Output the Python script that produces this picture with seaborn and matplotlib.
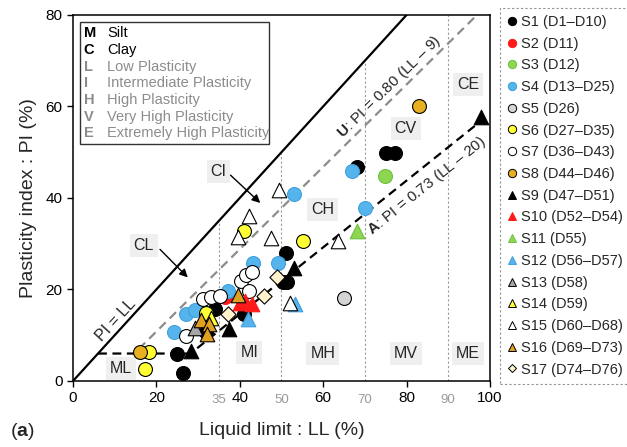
import matplotlib
matplotlib.use("Agg")
import matplotlib.pyplot as plt
import seaborn as sns
import pandas as pd
from matplotlib.lines import Line2D
from matplotlib.patches import Rectangle

sns.set_theme(style="white")
plt.rcParams["font.family"] = ["Liberation Sans", "DejaVu Sans"]
plt.rcParams["mathtext.fontset"] = "custom"
plt.rcParams["mathtext.bf"] = "Liberation Sans:bold"
plt.rcParams["mathtext.rm"] = "Liberation Sans"

# ---------------- data (LL, PI) per series ----------------
S1_LL = [25.0, 26.4, 34.1, 32.0, 40.9, 51.0, 50.3, 51.4, 68.1, 75.0, 77.3]
S1_PI = [5.8, 1.7, 15.7, 10.7, 14.6, 27.9, 21.7, 21.7, 46.8, 49.9, 49.9]
S2_LL = [36.5]
S2_PI = [18.4]
S3_LL = [74.9]
S3_PI = [44.9]
S4_LL = [24.2, 27.0, 29.2, 37.2, 43.2, 49.1, 53.1, 66.9, 70.1]
S4_PI = [10.6, 14.6, 15.5, 19.7, 25.8, 25.7, 40.8, 45.9, 37.7]
S5_LL = [64.9]
S5_PI = [18.1]
S6_LL = [18.2, 17.2, 32.0, 41.1, 55.1]
S6_PI = [6.4, 2.6, 14.8, 32.8, 30.7]
S7_LL = [27.2, 31.2, 33.2, 35.2, 40.2, 41.6, 43.0, 42.1]
S7_PI = [9.9, 17.9, 18.4, 18.6, 21.9, 23.2, 23.9, 19.7]
S8_LL = [16.0, 83.0]
S8_PI = [6.4, 60.0]
S9_LL = [28.4, 37.3, 53.1, 97.8]
S9_PI = [6.6, 11.4, 24.6, 57.8]
S10_LL = [40.0, 41.3, 43.0]
S10_PI = [17.0, 17.4, 16.8]
S11_LL = [68.0]
S11_PI = [32.8]
S12_LL = [41.9, 53.3]
S12_PI = [13.5, 16.8]
S13_LL = [29.3]
S13_PI = [11.5]
S14_LL = [33.0]
S14_PI = [13.8]
S15_LL = [39.6, 42.3, 47.6, 49.4, 52.0, 63.5]
S15_PI = [31.5, 36.0, 31.2, 41.7, 17.0, 30.5]
S16_LL = [30.8, 32.7, 32.1, 39.6]
S16_PI = [13.3, 12.5, 10.3, 18.8]
S17_LL = [37.2, 45.9, 49.0]
S17_PI = [14.6, 18.6, 22.7]

series_names = ["S1 (D1–D10)", "S2 (D11)", "S3 (D12)", "S4 (D13–D25)", "S5 (D26)",
                "S6 (D27–D35)", "S7 (D36–D43)", "S8 (D44–D46)", "S9 (D47–D51)",
                "S10 (D52–D54)", "S11 (D55)", "S12 (D56–D57)", "S13 (D58)",
                "S14 (D59)", "S15 (D60–D68)", "S16 (D69–D73)", "S17 (D74–D76)"]
series_LL = [S1_LL, S2_LL, S3_LL, S4_LL, S5_LL, S6_LL, S7_LL, S8_LL, S9_LL,
             S10_LL, S11_LL, S12_LL, S13_LL, S14_LL, S15_LL, S16_LL, S17_LL]
series_PI = [S1_PI, S2_PI, S3_PI, S4_PI, S5_PI, S6_PI, S7_PI, S8_PI, S9_PI,
             S10_PI, S11_PI, S12_PI, S13_PI, S14_PI, S15_PI, S16_PI, S17_PI]

# style: (marker, face, edge)
styles = [
    ("o", "#000000", "#000000"),
    ("o", "#ff1a1a", "#ff1a1a"),
    ("o", "#8fd650", "#6cc040"),
    ("o", "#56b4ec", "#3fa0dc"),
    ("o", "#d4d4d4", "#000000"),
    ("o", "#ffff33", "#000000"),
    ("o", "#ffffff", "#000000"),
    ("o", "#e8b020", "#000000"),
    ("^", "#000000", "#000000"),
    ("^", "#ff1a1a", "#ff1a1a"),
    ("^", "#8fd650", "#6cc040"),
    ("^", "#56b4ec", "#3fa0dc"),
    ("^", "#a6a6a6", "#000000"),
    ("^", "#ffff33", "#000000"),
    ("^", "#ffffff", "#000000"),
    ("^", "#e0a020", "#000000"),
    ("D", "#fff2cc", "#000000"),
]

rows = []
for name, xs, ys in zip(series_names, series_LL, series_PI):
    for x, y in zip(xs, ys):
        rows.append({"series": name, "LL": x, "PI": y})
df = pd.DataFrame(rows)

fig = plt.figure(figsize=(6.27, 4.47), dpi=100)
ax = fig.add_axes([0.1164, 0.1477, 0.665, 0.8188])

# reference lines
ax.plot([0, 80], [0, 80], color="black", lw=1.6, zorder=2)
ax.plot([15.8, 96.9], [0.9 * (15.8 - 8), 0.9 * (96.9 - 8)], color="#8c8c8c",
        lw=1.6, ls=(0, (4, 2.5)), zorder=2)
ax.plot([6, 28.2, 98], [6, 6, 0.73 * (98 - 20)], color="black", lw=1.6,
        ls=(0, (4, 2.5)), zorder=2)
for xv, ytop in [(35, 35), (50, 50), (70, 70), (90, 80)]:
    ax.plot([xv, xv], [0, ytop], color="#9a9a9a", lw=0.8, ls=(0, (2, 2)), zorder=1)

# scatter points
for (name, (mk, fc, ec)) in zip(series_names, styles):
    sub = df[df["series"] == name]
    size = 60 if mk == "D" else (110 if mk == "^" else 100)
    sns.scatterplot(data=sub, x="LL", y="PI", marker=mk, color=fc, edgecolor=ec,
                    linewidth=0.8, s=size, ax=ax, legend=False, zorder=4)

ax.set_xlim(0, 100)
ax.set_ylim(0, 80)
ax.set_xticks([0, 20, 40, 60, 80, 100])
ax.set_yticks([0, 20, 40, 60, 80])
ax.tick_params(direction="out", length=4, width=1, colors="black", labelsize=11,
               bottom=True, left=True)
for sp in ax.spines.values():
    sp.set_color("black")
    sp.set_linewidth(1.1)
ax.set_xlabel("Liquid limit : LL (%)", fontsize=14, labelpad=12)
ax.set_ylabel("Plasticity index : PI (%)", fontsize=14, labelpad=6)

# gray extra ticks
for xv in [35, 50, 70, 90]:
    ax.text(xv, -2.8, str(xv), color="#9a9a9a", fontsize=9.5, ha="center", va="top")

# zone labels
box = dict(boxstyle="square,pad=0.25", fc="#efefef", ec="none")
zones = [("ML", 11.5, 2.8), ("CL", 17.0, 29.7), ("CI", 34.9, 45.7), ("MI", 42.3, 6.2),
         ("CH", 59.9, 37.5), ("MH", 59.9, 6.0), ("CV", 79.8, 55.2), ("MV", 79.8, 6.0),
         ("ME", 94.7, 6.0), ("CE", 94.7, 64.7)]
for t, x, y in zones:
    ax.text(x, y, t, fontsize=11.5, ha="center", va="center", bbox=box, zorder=3)

ax.annotate("", xy=(28.0, 22.2), xytext=(20.4, 29.2),
            arrowprops=dict(arrowstyle="-|>", color="black", lw=1, mutation_scale=12), zorder=3)
ax.annotate("", xy=(45.4, 38.5), xytext=(37.3, 45.4),
            arrowprops=dict(arrowstyle="-|>", color="black", lw=1, mutation_scale=12), zorder=3)

ax.text(10.4, 13.3, "PI = LL", rotation=47.5, fontsize=11.5, ha="center", va="center",
        rotation_mode="anchor")
ax.text(75.8, 64.2, r"$\mathbf{U}$: PI = 0.80 (LL – 9)", rotation=44.5, fontsize=11,
        ha="center", va="center", rotation_mode="anchor")
ax.text(84.8, 42.6, r"$\mathbf{A}$: PI = 0.73 (LL – 20)", rotation=38.8, fontsize=11,
        ha="center", va="center", rotation_mode="anchor")

# left legend box (soil classification symbols)
ax.add_patch(Rectangle((0.017, 0.648), 0.453, 0.333, transform=ax.transAxes,
                       fc="white", ec="#333333", lw=1, zorder=5))
codes = [("M", "Silt", "black"), ("C", "Clay", "black"),
         ("L", "Low Plasticity", "#8c8c8c"), ("I", "Intermediate Plasticity", "#8c8c8c"),
         ("H", "High Plasticity", "#8c8c8c"), ("V", "Very High Plasticity", "#8c8c8c"),
         ("E", "Extremely High Plasticity", "#8c8c8c")]
for i, (c, lab, col) in enumerate(codes):
    yy = 0.950 - i * 0.0455
    ax.text(0.026, yy, c, transform=ax.transAxes, fontsize=10.5, fontweight="bold",
            color=col, va="center", zorder=6)
    ax.text(0.082, yy, lab, transform=ax.transAxes, fontsize=10.5, color=col,
            va="center", zorder=6)

# right legend
handles = []
for name, (mk, fc, ec) in zip(series_names, styles):
    handles.append(Line2D([], [], ls="none", marker=mk, markerfacecolor=fc,
                          markeredgecolor=ec, markeredgewidth=0.7,
                          markersize=4.5 if mk == "D" else 6, label=name))
leg = fig.legend(handles=handles, loc="upper left", bbox_to_anchor=(0.797, 0.983),
                 fontsize=10.5, frameon=True, fancybox=False, labelspacing=0.53,
                 handlelength=0.7, handletextpad=0.25, borderpad=0.5, borderaxespad=0)
fr = leg.get_frame()
fr.set_linestyle((0, (2, 2)))
fr.set_edgecolor("#777777")
fr.set_linewidth(0.8)

fig.text(0.016, 0.035, r"($\mathbf{a}$)", fontsize=14, ha="left", va="center")

fig.savefig("out.png", dpi=100)
